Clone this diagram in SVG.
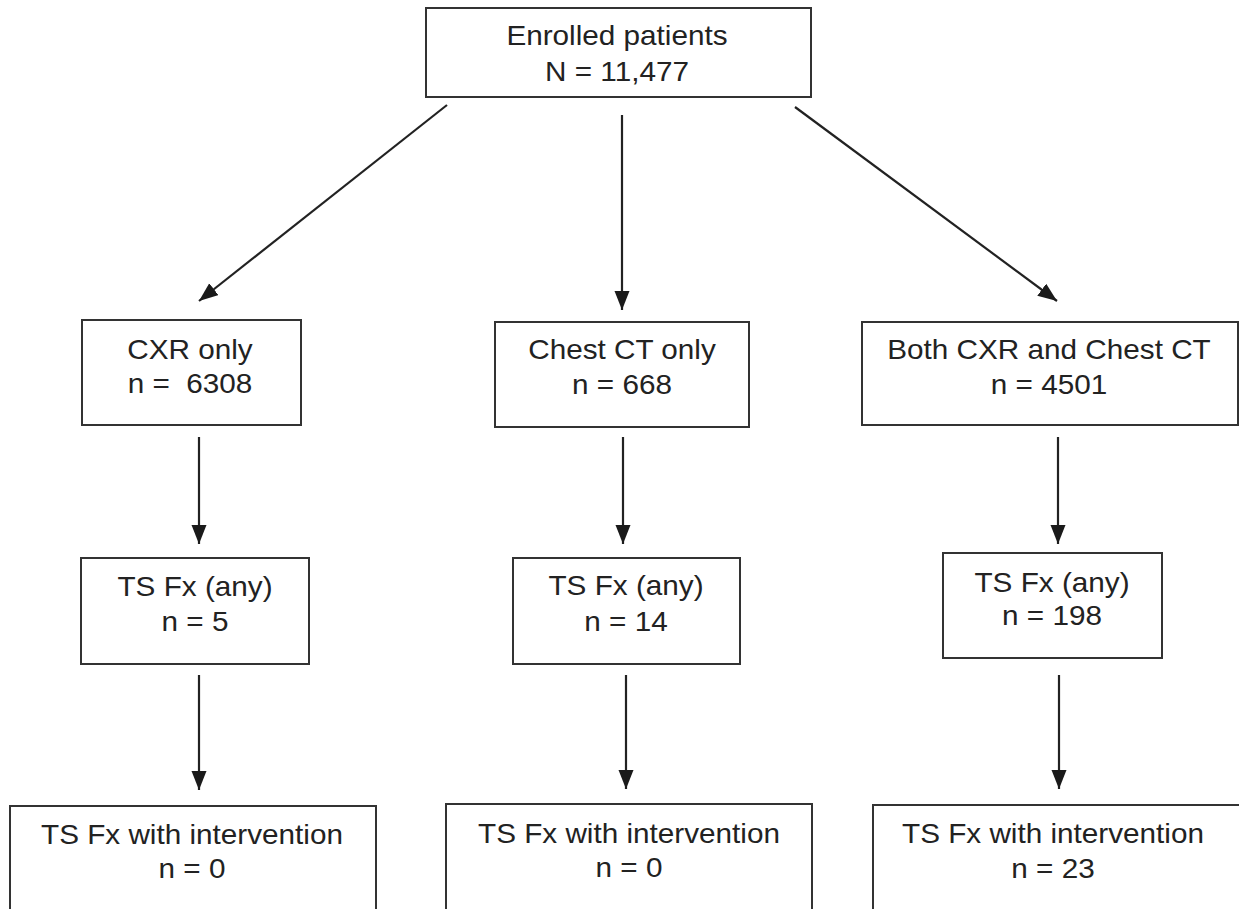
<svg xmlns="http://www.w3.org/2000/svg" width="1239" height="909" viewBox="0 0 1239 909">
<style>
.box{fill:#fff;stroke:#333;stroke-width:2}
.lbl{font-family:"Liberation Sans",Arial,sans-serif;font-size:27px;fill:#222;text-anchor:middle}
.conn{stroke:#222;stroke-width:2.2;fill:none;marker-end:url(#ah)}
</style>
<defs>
<marker id="ah" markerUnits="userSpaceOnUse" markerWidth="20" markerHeight="16" refX="19" refY="7.5" orient="auto">
<path d="M0,0 L19,7.5 L0,15 z" fill="#1a1a1a"/>
</marker>
</defs>
<rect width="1239" height="909" fill="#fff"/>
<g id="connectors">
<line class="conn" x1="447" y1="105" x2="199" y2="301"/>
<line class="conn" x1="622" y1="115" x2="622" y2="310"/>
<line class="conn" x1="795" y1="107" x2="1057" y2="301"/>
<line class="conn" x1="199" y1="437" x2="199" y2="544"/>
<line class="conn" x1="623" y1="437" x2="623" y2="544"/>
<line class="conn" x1="1058" y1="437" x2="1058" y2="544"/>
<line class="conn" x1="199" y1="675" x2="199" y2="790"/>
<line class="conn" x1="626" y1="675" x2="626" y2="789"/>
<line class="conn" x1="1059" y1="675" x2="1059" y2="789"/>
</g>
<g id="enrolled">
<rect class="box" x="426" y="8" width="385" height="89"/>
<text class="lbl" transform="translate(617,45) scale(1.1,1)">Enrolled patients</text>
<text class="lbl" transform="translate(617,81) scale(1.1,1)">N = 11,477</text>
</g>
<g id="cxr">
<rect class="box" x="82" y="320" width="219" height="105"/>
<text class="lbl" transform="translate(190,359) scale(1.1,1)">CXR only</text>
<text class="lbl" xml:space="preserve" transform="translate(190,393) scale(1.1,1)">n =  6308</text>
</g>
<g id="ct">
<rect class="box" x="495" y="322" width="254" height="105"/>
<text class="lbl" transform="translate(622,359) scale(1.1,1)">Chest CT only</text>
<text class="lbl" transform="translate(622,394) scale(1.1,1)">n = 668</text>
</g>
<g id="both">
<rect class="box" x="862" y="322" width="376" height="103"/>
<text class="lbl" transform="translate(1049,359) scale(1.1,1)">Both CXR and Chest CT</text>
<text class="lbl" transform="translate(1049,394) scale(1.1,1)">n = 4501</text>
</g>
<g id="fx-cxr">
<rect class="box" x="81" y="558" width="228" height="106"/>
<text class="lbl" transform="translate(195,596) scale(1.1,1)">TS Fx (any)</text>
<text class="lbl" transform="translate(195,631) scale(1.1,1)">n = 5</text>
</g>
<g id="fx-ct">
<rect class="box" x="513" y="558" width="227" height="106"/>
<text class="lbl" transform="translate(626,595) scale(1.1,1)">TS Fx (any)</text>
<text class="lbl" transform="translate(626,631) scale(1.1,1)">n = 14</text>
</g>
<g id="fx-both">
<rect class="box" x="943" y="553" width="219" height="105"/>
<text class="lbl" transform="translate(1052,592) scale(1.1,1)">TS Fx (any)</text>
<text class="lbl" transform="translate(1052,625) scale(1.1,1)">n = 198</text>
</g>
<g id="int-cxr">
<rect class="box" x="10" y="806" width="366" height="120"/>
<text class="lbl" transform="translate(192,844) scale(1.1,1)">TS Fx with intervention</text>
<text class="lbl" transform="translate(192,878) scale(1.1,1)">n = 0</text>
</g>
<g id="int-ct">
<rect class="box" x="446" y="804" width="366" height="120"/>
<text class="lbl" transform="translate(629,843) scale(1.1,1)">TS Fx with intervention</text>
<text class="lbl" transform="translate(629,877) scale(1.1,1)">n = 0</text>
</g>
<g id="int-both">
<rect class="box" x="873" y="805" width="368" height="120"/>
<text class="lbl" transform="translate(1053,843) scale(1.1,1)">TS Fx with intervention</text>
<text class="lbl" transform="translate(1053,878) scale(1.1,1)">n = 23</text>
</g>
</svg>
